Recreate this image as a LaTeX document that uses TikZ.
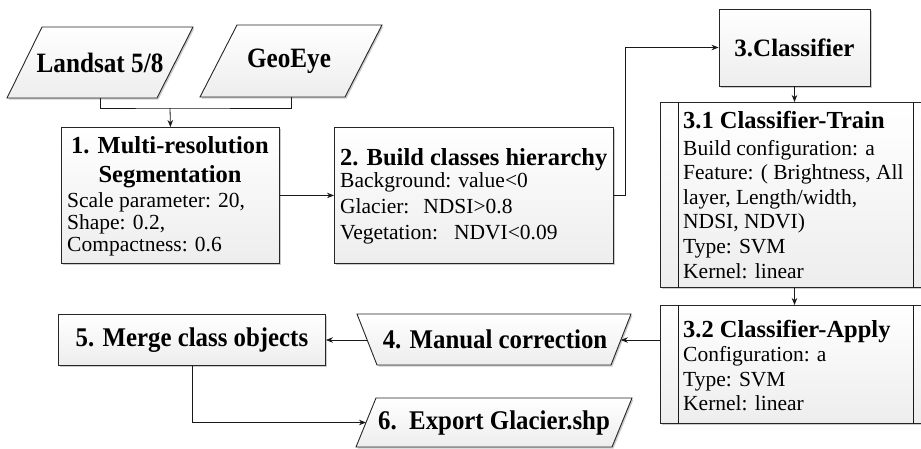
\documentclass[tikz,border=0pt]{standalone}
\usepackage{fontspec}
\setmainfont{Liberation Serif}
\usetikzlibrary{arrows.meta,shadows}
\newcommand{\mytitle}{\fontsize{24.5}{29}\selectfont\bfseries}
\newcommand{\mybody}[1]{\fontsize{21.5}{#1}\selectfont}
\newcommand{\narrow}[2]{\scalebox{#1}[1]{#2}}
\tikzset{
  boxsty/.style={draw=black!85, line width=0.9pt, top color=white, bottom color=black!7,
    drop shadow={shadow xshift=1.5pt, shadow yshift=-1.5pt, fill=black!50, opacity=0.4}},
  rectbox/.style={boxsty, inner sep=0pt, anchor=north west},
  arr/.style={draw=black!90, line width=0.8pt, -{Stealth[length=7pt,width=5.5pt]}},
  conn/.style={draw=black!90, line width=0.8pt},
  txt/.style={inner sep=0pt, text=black},
  inbold/.style={font=\fontsize{28}{32}\selectfont\bfseries},
  bigbold/.style={font=\fontsize{27}{31}\selectfont\bfseries},
}
\begin{document}
\begin{tikzpicture}[x=1pt,y=-1pt]
\useasboundingbox (0,0) rectangle (921,448);
\clip (0,0) rectangle (921,448);

% inputs
\path[boxsty] (42,27) -- (193,27) -- (157,98) -- (7,98) -- cycle;
\node[txt, inbold] (landsat) at (100,62.5) {\narrow{0.9}{Landsat 5/8}};
\coordinate (landsatB) at (100,98);
\path[boxsty] (237,25) -- (382,25) -- (345,97) -- (200,97) -- cycle;
\node[txt, inbold] (geoeye) at (289,61) {\narrow{0.9}{GeoEye}};
\coordinate (geoB) at (291,97);
\coordinate (join) at (170,108);

% box 1
\node[rectbox, minimum width=218pt, minimum height=136pt] (b1) at (61,127) {};
\node[txt, anchor=base, font=\mytitle] (b1t) at (170,153)
  {\begin{tabular}[t]{@{}c@{}}1. Multi-resolution\\Segmentation\end{tabular}};
\node[txt, anchor=base west, font={\mybody{22}}] (b1b) at (67,207)
  {\begin{tabular}[t]{@{}l@{}}Scale parameter: 20,\\Shape: 0.2,\\Compactness: 0.6\end{tabular}};

% box 2
\node[rectbox, minimum width=279pt, minimum height=136pt] (b2) at (334,127) {};
\node[txt, anchor=base west, font=\mytitle] (b2t) at (340,165) {2. Build classes hierarchy};
\node[txt, anchor=base west, font={\mybody{26}}] (b2b) at (340,187)
  {\begin{tabular}[t]{@{}l@{}}Background: value<0\\Glacier:\hspace{14pt}NDSI>0.8\\Vegetation:\hspace{16pt}NDVI<0.09\end{tabular}};

% classifier
\node[boxsty, inner sep=0pt, minimum width=151pt, minimum height=77pt, font=\fontsize{25}{30}\selectfont\bfseries] (cls) at (794.5,47.5) {3.Classifier};

% box 3.1
\node[rectbox, minimum width=270pt, minimum height=185pt] (b31) at (660,102) {};
\draw[conn] ([xshift=18pt]b31.north west) -- ([xshift=18pt]b31.south west);
\draw[conn] ([xshift=-18pt]b31.north east) -- ([xshift=-18pt]b31.south east);
\node[txt, anchor=base west, font=\mytitle] (b31t) at (683,128) {3.1 Classifier-Train};
\node[txt, anchor=base west, font={\mybody{24.6}}] (b31b) at (683,155)
  {\begin{tabular}[t]{@{}l@{}}Build configuration: a\\Feature: ( Brightness, All\\layer, Length/width,\\NDSI, NDVI)\\Type: SVM\\Kernel: linear\end{tabular}};

% box 3.2
\node[rectbox, minimum width=270pt, minimum height=118pt] (b32) at (660,305) {};
\draw[conn] ([xshift=18pt]b32.north west) -- ([xshift=18pt]b32.south west);
\draw[conn] ([xshift=-18pt]b32.north east) -- ([xshift=-18pt]b32.south east);
\node[txt, anchor=base west, font=\mytitle] (b32t) at (683,337) {3.2 Classifier-Apply};
\node[txt, anchor=base west, font={\mybody{24.5}}] (b32b) at (683,361.5)
  {\begin{tabular}[t]{@{}l@{}}Configuration: a\\Type: SVM\\Kernel: linear\end{tabular}};

% manual correction
\path[boxsty] (357,314) -- (631,314) -- (611,365) -- (377,365) -- cycle;
\node[txt, bigbold] (man) at (495,339.5) {\narrow{0.92}{4. Manual correction}};
\coordinate (manR) at (620.8,340);
\coordinate (manL) at (367,340);

% merge
\node[rectbox, minimum width=267pt, minimum height=51pt] (b5) at (58,314) {};
\node[txt, bigbold] (b5t) at (b5.center) {\narrow{0.92}{5. Merge class objects}};

% export
\path[boxsty] (376,398) -- (632,398) -- (612,447) -- (356,447) -- cycle;
\node[txt, bigbold] (exp) at (494,422.5) {\narrow{0.92}{6.\ \ Export Glacier.shp}};
\coordinate (expL) at (366,422.5);

% connectors
\draw[conn] (landsatB) |- (join) -| (geoB);
\draw[arr] (join) -- (b1.north);
\draw[arr] (b1.east) -- (b2.west);
\draw[arr] (b2.east) -- ++(11,0) |- (cls.west);
\draw[arr] (cls.south) -- (cls.south |- b31.north);
\draw[arr] (cls.south |- b31.south) -- (cls.south |- b32.north);
\draw[arr] (b32.west |- manR) -- (manR);
\draw[arr] (manL) -- (b5.east |- manL);
\draw[arr] (b5.south) |- (expL);
\end{tikzpicture}
\end{document}
